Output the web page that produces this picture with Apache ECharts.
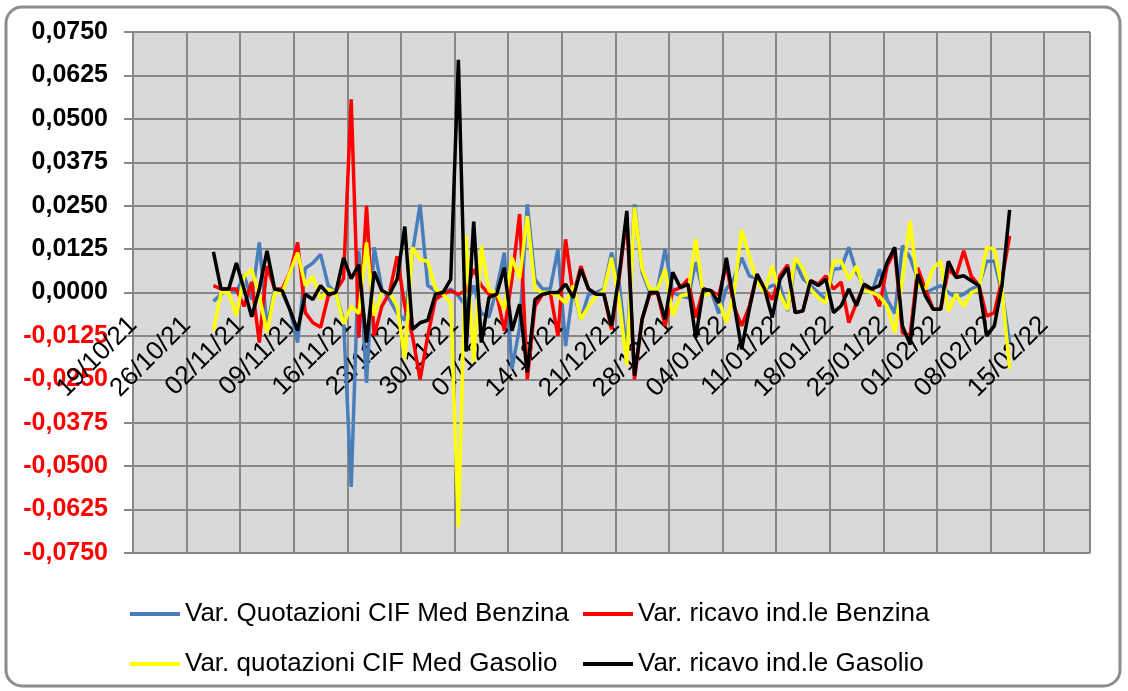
<!DOCTYPE html>
<html lang="it">
<head>
<meta charset="UTF-8">
<title>Variazioni quotazioni e ricavo</title>
<script src="https://cdn.jsdelivr.net/npm/echarts@6/dist/echarts.min.js"></script>
<style>
  html, body { margin: 0; padding: 0; background: #fff; }
  #chart { width: 1128px; height: 691px; }
</style>
</head>
<body>
<div id="chart"></div>
<script>
// asse x: giorni dal 19/10/21, tacche settimanali
var axisStart = [2021, 9, 19];
var firstPoint = 10;   // 29/10/21
var axisMax = 125;

// variazioni giornaliere (dal 29/10/21 al 10/02/22)
var quotBenzina = [
  -0.0025, -0.0005, 0.001, 0.0, 0.005, -0.002, 0.0144, -0.010, 0.001, 0.0,
  -0.005, -0.0144, 0.007, 0.0085, 0.011, 0.002, 0.0, -0.008, -0.056, 0.012,
  -0.026, 0.013, 0.001, -0.002, -0.006, -0.008, 0.0115, 0.0253, 0.002, 0.0005,
  0.0, 0.001, -0.001, -0.004, 0.002, -0.006, -0.007, 0.001, 0.0115, -0.022,
  -0.010, 0.0254, 0.0038, 0.001, 0.001, 0.0125, -0.0154, 0.001, -0.0077, -0.0005,
  0.0, 0.001, 0.0115, 0.003, -0.018, 0.0254, 0.0058, 0.0, 0.001, 0.0125,
  0.0, -0.001, -0.0015, 0.0087, 0.0, 0.0005, -0.006, 0.001, 0.004, 0.010,
  0.0048, 0.004, 0.001, 0.002, 0.002, -0.0053, 0.0087, 0.004, 0.002, 0.0,
  -0.002, 0.0067, 0.007, 0.013, 0.0058, 0.002, 0.0, 0.0067, -0.002, -0.006,
  0.0135, 0.010, 0.0038, 0.0, 0.001, 0.002, 0.0, -0.0015, -0.0005, 0.001,
  0.002, 0.009, 0.009, 0.0, -0.0145
];
var ricavoBenzina = [
  0.002, 0.001, 0.001, 0.001, -0.004, 0.003, -0.0144, 0.0076, 0.001, 0.001,
  0.0058, 0.0144, -0.0058, -0.0087, -0.010, -0.001, 0.0005, 0.004, 0.0556, -0.013,
  0.025, -0.0125, -0.004, 0.0, 0.0104, -0.004, -0.0125, -0.025, -0.0125, -0.002,
  -0.0005, 0.0005, -0.0005, 0.0005, 0.0067, 0.002, -0.0005, -0.0005, -0.011, 0.004,
  0.0226, -0.025, -0.004, -0.0005, 0.0, -0.0125, 0.0153, -0.001, 0.0076, 0.001,
  -0.0005, -0.0005, -0.0106, 0.004, 0.022, -0.025, -0.0077, -0.0005, 0.0, -0.0096,
  0.0005, 0.0014, 0.0038, -0.0072, 0.001, 0.0005, -0.001, 0.008, -0.004, -0.0096,
  -0.004, 0.0052, 0.001, -0.002, 0.0048, 0.008, -0.0058, -0.0053, 0.0034, 0.0024,
  0.0048, 0.001, 0.003, -0.0087, -0.003, 0.002, 0.001, -0.004, 0.0076, 0.012,
  -0.0116, -0.0125, 0.0071, 0.001, -0.0048, -0.0048, 0.0066, 0.0047, 0.012, 0.0047,
  0.002, -0.0068, -0.0058, 0.0038, 0.0163
];
var quotGasolio = [
  -0.011, 0.0, 0.0, -0.0067, 0.0046, 0.0067, -0.001, -0.0115, 0.0, 0.0,
  0.0058, 0.0115, 0.002, 0.0046, -0.002, 0.001, 0.0, -0.009, -0.004, -0.006,
  0.0144, -0.0067, 0.0, 0.0, -0.004, -0.019, 0.013, 0.0095, 0.009, 0.001,
  -0.0005, -0.003, -0.0674, 0.0163, -0.020, 0.0134, 0.0005, 0.0, -0.005, 0.010,
  0.004, 0.022, 0.001, 0.0, 0.0, -0.001, -0.003, 0.002, -0.0077, -0.004,
  -0.001, 0.0005, 0.010, -0.002, -0.021, 0.0245, 0.0067, 0.001, 0.001, 0.0067,
  -0.0067, -0.001, -0.0005, 0.0154, -0.001, 0.0, -0.002, -0.0087, 0.0, 0.018,
  0.0105, 0.003, 0.0, 0.0076, -0.0005, -0.005, 0.010, 0.007, 0.001, -0.0015,
  -0.003, 0.009, 0.009, 0.0037, 0.0076, 0.0005, 0.0, -0.001, -0.004, -0.0116,
  0.004, 0.0205, 0.002, 0.001, 0.007, 0.009, -0.0053, -0.0005, -0.004, 0.0,
  0.001, 0.013, 0.0125, 0.001, -0.022
];
var ricavoGasolio = [
  0.0117, 0.001, 0.001, 0.0085, 0.001, -0.007, 0.001, 0.012, 0.001, 0.0005,
  -0.005, -0.011, -0.0005, -0.002, 0.002, -0.0005, 0.0, 0.010, 0.004, 0.008,
  -0.0144, 0.006, 0.0005, -0.0005, 0.0038, 0.019, -0.0106, -0.0087, -0.008, -0.0005,
  0.0, 0.0038, 0.067, -0.017, 0.0204, -0.0144, -0.0014, -0.0005, 0.0072, -0.011,
  -0.0034, -0.023, -0.002, -0.0005, 0.0, 0.0, 0.0024, -0.0015, 0.0067, 0.001,
  -0.0005, -0.0005, -0.0096, 0.005, 0.0235, -0.024, -0.0077, 0.0, 0.0, -0.0077,
  0.0058, 0.0014, 0.0024, -0.013, 0.001, 0.0005, -0.003, 0.010, -0.003, -0.0163,
  -0.0048, 0.0053, 0.001, -0.0072, 0.0038, 0.0072, -0.0058, -0.0053, 0.0034, 0.002,
  0.0038, -0.0058, -0.0038, 0.001, -0.0038, 0.0024, 0.001, 0.002, 0.0087, 0.013,
  -0.0096, -0.015, 0.0053, -0.001, -0.0048, -0.0048, 0.009, 0.0043, 0.0048, 0.0034,
  0.002, -0.0125, -0.0096, 0.002, 0.0238
];

var seriesNames = [
  'Var. Quotazioni CIF Med Benzina',
  'Var. ricavo ind.le Benzina',
  'Var. quotazioni CIF Med Gasolio',
  'Var. ricavo ind.le Gasolio'
];
var seriesColors = ['#4a7ebb', '#ff0000', '#ffff00', '#000000'];

function pad(n) { return (n < 10 ? '0' : '') + n; }
function dayLabel(v) {
  var d = new Date(axisStart[0], axisStart[1], axisStart[2] + v);
  return pad(d.getDate()) + '/' + pad(d.getMonth() + 1) + '/' + String(d.getFullYear()).slice(2);
}
// punti al centro del giorno (come asse date di Excel)
function toPoints(arr) {
  return arr.map(function (v, i) { return [firstPoint + i + 0.5, v]; });
}

var font = 'Liberation Sans, Arial, sans-serif';
var gridColor = '#878787';

var chart = echarts.init(document.getElementById('chart'));

var legends = [];
var legendPos = [[125, 596], [578, 596], [125, 646], [578, 646]];
seriesNames.forEach(function (name, k) {
  legends.push({
    data: [name],
    left: legendPos[k][0],
    top: legendPos[k][1],
    icon: 'rect',
    itemWidth: 50,
    itemHeight: 4,
    textStyle: { fontFamily: font, fontSize: 26, color: '#000' }
  });
});

chart.setOption({
  animation: false,
  backgroundColor: '#fff',
  graphic: [{
    type: 'rect',
    shape: { x: 6, y: 7, width: 1114, height: 679, r: 16 },
    style: { fill: 'none', stroke: '#8c8c8c', lineWidth: 3 },
    z: -1
  }],
  legend: legends,
  grid: {
    left: 133,
    top: 32,
    right: 38,
    bottom: 138,
    show: true,
    backgroundColor: '#d9d9d9',
    borderWidth: 0
  },
  xAxis: {
    type: 'value',
    position: 'bottom',
    offset: -260,   // asse sullo zero
    min: 0,
    max: axisMax,
    interval: 7,
    axisLine: { onZero: false, lineStyle: { color: gridColor, width: 2 } },
    axisTick: { show: true, length: 6, lineStyle: { color: gridColor, width: 2 } },
    splitLine: { show: true, lineStyle: { color: gridColor, width: 2 } },
    axisLabel: {
      rotate: 45,
      margin: 28,
      padding: [59, 0, 0, 0],
      showMaxLabel: false,
      hideOverlap: false,
      fontFamily: font,
      fontSize: 26,
      color: '#000',
      formatter: dayLabel
    }
  },
  yAxis: {
    type: 'value',
    min: -0.075,
    max: 0.075,
    interval: 0.0125,
    axisLine: { show: true, onZero: false, lineStyle: { color: gridColor, width: 2 } },
    axisTick: { show: true, length: 9, lineStyle: { color: gridColor, width: 2 } },
    splitLine: { show: true, lineStyle: { color: gridColor, width: 2 } },
    axisLabel: {
      margin: 25,
      fontFamily: font,
      fontSize: 25,
      fontWeight: 'bold',
      color: function (v) { return v < -1e-9 ? '#ff0000' : '#000'; },
      formatter: function (v) {
        var s = (Math.abs(v) < 1e-9 ? 0 : v).toFixed(4);
        return s.replace('.', ',');
      }
    }
  },
  series: [quotBenzina, ricavoBenzina, quotGasolio, ricavoGasolio].map(function (arr, k) {
    return {
      name: seriesNames[k],
      type: 'line',
      data: toPoints(arr),
      showSymbol: false,
      symbol: 'none',
      lineStyle: { color: seriesColors[k], width: 3.5 },
      itemStyle: { color: seriesColors[k] }
    };
  })
});
</script>
</body>
</html>
